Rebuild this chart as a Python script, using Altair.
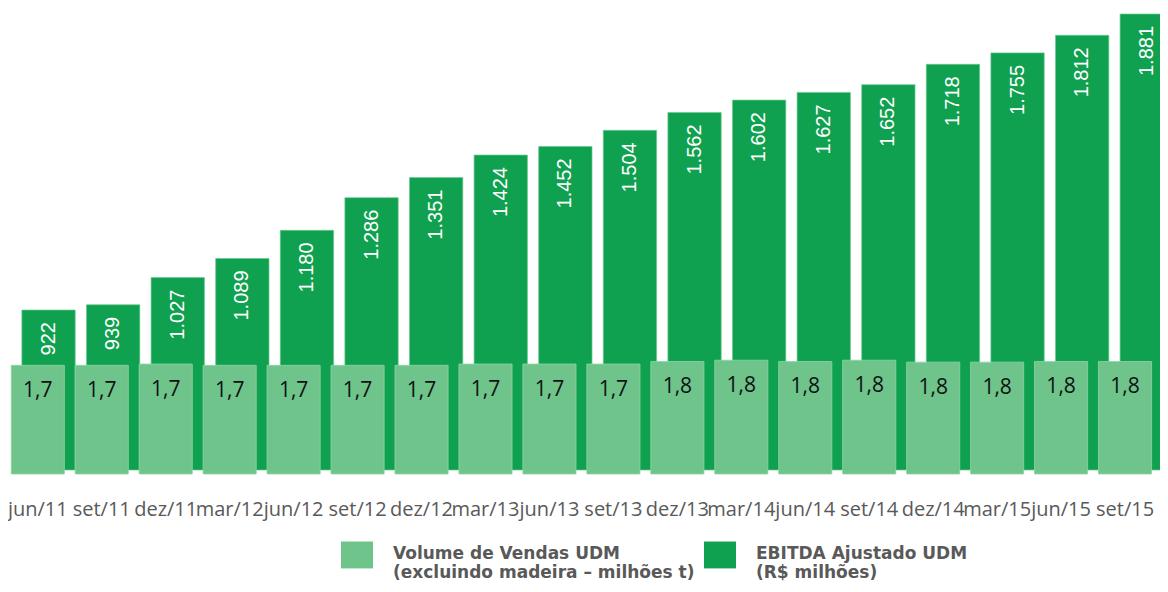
import altair as alt
import pandas as pd

periods = ["jun/11", "set/11", "dez/11", "mar/12", "jun/12", "set/12", "dez/12",
           "mar/13", "jun/13", "set/13", "dez/13", "mar/14", "jun/14", "set/14",
           "dez/14", "mar/15", "jun/15", "set/15"]
ebitda = [922, 939, 1027, 1089, 1180, 1286, 1351, 1424, 1452, 1504, 1562,
          1602, 1627, 1652, 1718, 1755, 1812, 1881]
volume = [1.70, 1.70, 1.72, 1.70, 1.70, 1.70, 1.70, 1.72, 1.72, 1.72, 1.76,
          1.78, 1.76, 1.78, 1.75, 1.75, 1.76, 1.76]

VOL_NAME = "Volume de Vendas UDM|(excluindo madeira – milhões t)"
EBITDA_NAME = "EBITDA Ajustado UDM|(R$ milhões)"
LIGHT = "#6EC48A"
DARK = "#10A150"

vol_df = pd.DataFrame({
    "periodo": periods,
    "valor": volume,
    "serie": VOL_NAME,
    "rotulo": [f"{v:.1f}".replace(".", ",") for v in volume],
})
ebi_df = pd.DataFrame({
    "periodo": periods,
    "valor": ebitda,
    "serie": EBITDA_NAME,
    "rotulo": [f"{v:,}".replace(",", ".") for v in ebitda],
})

W, H = 1152, 466
K = W / 1160.0  # slight horizontal compression so the page does not overflow
EBITDA_BASE = 403.6

color = alt.Color(
    "serie:N",
    scale=alt.Scale(domain=[VOL_NAME, EBITDA_NAME], range=[LIGHT, DARK]),
    legend=alt.Legend(
        orient="none", legendX=333, legendY=530, direction="horizontal",
        title=None, labelExpr="split(datum.label, '|')",
        labelFont="DejaVu Sans", labelFontSize=17, labelFontWeight="bold",
        labelColor="#595959", labelLimit=600,
        symbolType="M-1,-0.78H1V0.9H-1Z", symbolSize=1024,
        symbolStrokeWidth=0, labelOffset=20, columnPadding=9, padding=0,
    ),
)

x_light = alt.X(
    "periodo:N", sort=periods,
    scale=alt.Scale(range=[-2.2 * K, 1157.0 * K], paddingInner=0, paddingOuter=0),
    axis=alt.Axis(title=None, labelAngle=0, labelOverlap=False, domain=False,
                  ticks=False, tickSize=0, labelPadding=25,
                  labelFont="Open Sans", labelFontSize=20,
                  labelColor="#595959"),
)
x_dark = alt.X(
    "periodo:N", sort=periods,
    scale=alt.Scale(range=[8.3 * K, 1179.2 * K], paddingInner=0, paddingOuter=0),
    axis=None,
)
y_dark = alt.Y("valor:Q", scale=alt.Scale(domain=[390.7, 1900.4], zero=False, nice=False), axis=None)
y_light = alt.Y("valor:Q", scale=alt.Scale(domain=[0, 7.29], nice=False), axis=None)

dark_bars = alt.Chart(ebi_df).mark_bar(
    width=53.7 * K, clip=True, stroke="#6cc990", strokeWidth=0.7
).encode(x=x_dark, y=y_dark, y2=alt.datum(EBITDA_BASE), color=color)

dark_text = alt.Chart(ebi_df).mark_text(
    angle=270, align="right", baseline="middle", dx=-12,
    color="white", font="Liberation Sans", fontSize=20
).encode(x=x_dark, y=y_dark, text="rotulo:N")

light_bars = alt.Chart(vol_df).mark_bar(
    width=53.5 * K, stroke="#8fd4a6", strokeWidth=0.8
).encode(x=x_light, y=y_light, color=color)

light_text = alt.Chart(vol_df).mark_text(
    baseline="alphabetic", dy=32, color="#111111", font="Open Sans", fontSize=21
).encode(x=x_light, y=y_light, text="rotulo:N")

chart = alt.layer(
    alt.layer(dark_bars, dark_text),
    alt.layer(light_bars, light_text),
).resolve_scale(x="independent", y="independent").properties(
    width=W, height=H,
    autosize=alt.AutoSizeParams(type="none"),
    padding={"left": 0, "top": 0, "right": 0, "bottom": 110},
).configure_view(stroke=None)

chart.save("out.html", embed_options={"renderer": "svg", "actions": False})
